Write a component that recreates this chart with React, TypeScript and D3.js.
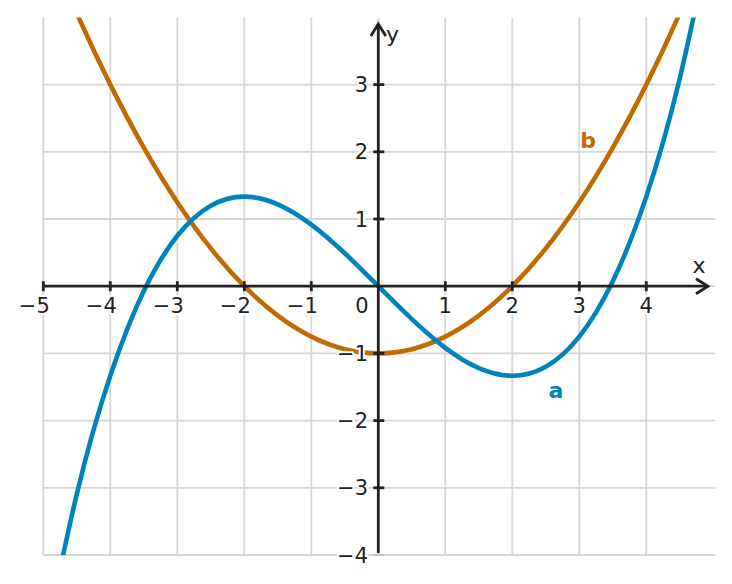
import React from "react";
import * as d3 from "d3";

const xs = [-5, -4.5, -4, -3.5, -3, -2.5, -2, -1.5, -1, -0.5, 0, 0.5, 1, 1.5, 2, 2.5, 3, 3.5, 4, 4.5, 5];
const seriesA = [-5.417, -3.094, -1.333, -0.073, 0.75, 1.198, 1.333, 1.219, 0.917, 0.49, 0, -0.49, -0.917, -1.219, -1.333, -1.198, -0.75, 0.073, 1.333, 3.094, 5.417];
const seriesB = [5.25, 4.0625, 3, 2.0625, 1.25, 0.5625, 0, -0.4375, -0.75, -0.9375, -1, -0.9375, -0.75, -0.4375, 0, 0.5625, 1.25, 2.0625, 3, 4.0625, 5.25];
const xTicks = [-5, -4, -3, -2, -1, 1, 2, 3, 4];
const yTicks = [-4, -3, -2, -1, 1, 2, 3];
const xGrid = [-5, -4, -3, -2, -1, 0, 1, 2, 3, 4];
const yGrid = [-4, -3, -2, -1, 0, 1, 2, 3];

const W = 732, H = 584;
const BLUE = "#0083b9";
const ORANGE = "#c06a02";
const INK = "#222222";
const GRID = "#d6d6d6";
const FONT = "DejaVu Sans, sans-serif";

const fmt = (v: number) => (v < 0 ? "\u2212" + Math.abs(v) : String(v));

export default function App() {
  const x = d3.scaleLinear().domain([-5, 5]).range([43.3, 713.3]);
  const y = d3.scaleLinear().domain([-4, 4]).range([555, 17.4]);
  const line = d3
    .line<number>()
    .x((_, i) => x(xs[i]))
    .y((d) => y(d))
    .curve(d3.curveNatural);

  const x0 = x(0), y0 = y(0);
  const halo = { paintOrder: "stroke" as const, stroke: "#fff", strokeWidth: 4, strokeLinejoin: "round" as const };

  return (
    <svg width={W} height={H} style={{ position: "absolute", left: 0, top: 0, background: "#fff" }} fontFamily={FONT}>
      <defs>
        <clipPath id="plot">
          <rect x={x(-5)} y={y(4)} width={x(5) - x(-5) + 2} height={y(-4) - y(4)} />
        </clipPath>
      </defs>
      {/* grid */}
      <g stroke={GRID} strokeWidth={1.8}>
        {xGrid.map((v) => (
          <line key={"gx" + v} x1={x(v)} x2={x(v)} y1={y(4)} y2={y(-4)} />
        ))}
        {yGrid.map((v) => (
          <line key={"gy" + v} x1={x(-5)} x2={x(5) + 2} y1={y(v)} y2={y(v)} />
        ))}
      </g>
      {/* curves */}
      <g clipPath="url(#plot)" fill="none" strokeWidth={4.6} strokeLinecap="round">
        <path d={line(seriesB) || ""} stroke={ORANGE} />
        <path d={line(seriesA) || ""} stroke={BLUE} />
      </g>
      {/* axes */}
      <g stroke={INK} strokeWidth={2.8} fill="none">
        <line x1={x(-5)} x2={708} y1={y0} y2={y0} />
        <polyline points={`${696},${y0 - 7.5} ${708},${y0} ${696},${y0 + 7.5}`} strokeLinejoin="miter" />
        <line x1={x0} x2={x0} y1={y(-4) - 2} y2={24} />
        <polyline points={`${x0 - 7.5},${36} ${x0},${24} ${x0 + 7.5},${36}`} />
        {xTicks.map((v) => (
          <line key={"tx" + v} x1={x(v)} x2={x(v)} y1={y0 - 5} y2={y0 + 5} />
        ))}
        {yTicks.filter((v) => v !== -4).map((v) => (
          <line key={"ty" + v} x1={x0 - 5} x2={x0 + 6} y1={y(v)} y2={y(v)} />
        ))}
        <line x1={x0 - 5} x2={x0 + 6} y1={y(-4)} y2={y(-4)} stroke="#bbbbbb" strokeWidth={1.5} />
      </g>
      {/* tick labels */}
      <g fill={INK} fontSize={21}>
        {xTicks.map((v) => (
          <text key={"lx" + v} x={x(v) - (v < 0 ? 9 : 0)} y={312.5} textAnchor="middle" style={halo}>
            {fmt(v)}
          </text>
        ))}
        {yTicks.map((v) => (
          <text key={"ly" + v} x={368} y={y(v)} dy="0.36em" textAnchor="end" style={halo}>
            {fmt(v)}
          </text>
        ))}
        <text x={362} y={312.5} textAnchor="middle" style={halo}>0</text>
        <text x={699} y={273} textAnchor="middle" fontSize={22}>x</text>
        <text x={386} y={42} fontSize={22}>y</text>
      </g>
      {/* series labels */}
      <text x={556} y={398} textAnchor="middle" fontSize={22} fontWeight="bold" fill={BLUE} style={halo}>a</text>
      <text x={588} y={148} textAnchor="middle" fontSize={22} fontWeight="bold" fill={ORANGE} style={halo}>b</text>
    </svg>
  );
}
